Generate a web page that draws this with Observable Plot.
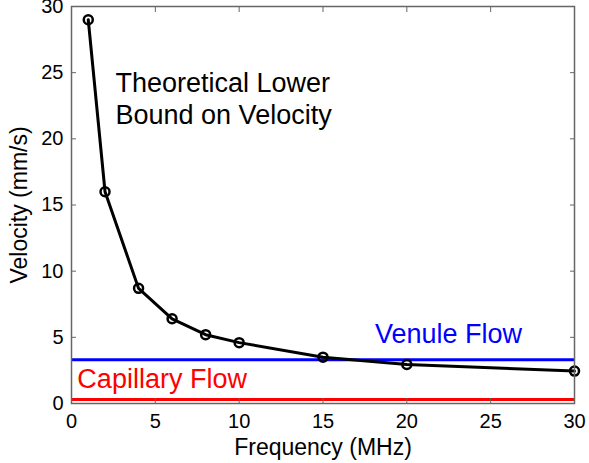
<!DOCTYPE html>
<html><head><meta charset="utf-8">
<script src="https://cdn.jsdelivr.net/npm/d3@7"></script>
<script src="https://cdn.jsdelivr.net/npm/@observablehq/plot@0.6"></script>
<style>body{margin:0;background:#fff}</style>
</head><body><div id="chart"></div>
<script>
const frequency = [1, 2, 4, 6, 8, 10, 15, 20, 30];
const velocity = [29, 16, 8.7, 6.4, 5.2, 4.6, 3.5, 2.95, 2.45];
const venuleFlow = 3.3;
const capillaryFlow = 0.3;
const xTicks = [0, 5, 10, 15, 20, 25, 30];
const yTicks = [0, 5, 10, 15, 20, 25, 30];
const data = frequency.map((f, i) => ({f, v: velocity[i]}));
const font = "Liberation Sans, Arial, sans-serif";
const blank = () => "";
const chart = Plot.plot({
  width: 589, height: 463,
  marginLeft: 71, marginRight: 15, marginTop: 6, marginBottom: 60,
  style: {fontFamily: font, fontSize: "20px", color: "#000", background: "#fff", overflow: "visible"},
  x: {domain: [0, 30]},
  y: {domain: [0, 30]},
  marks: [
    Plot.ruleY([venuleFlow], {stroke: "#0000ff", strokeWidth: 3}),
    Plot.ruleY([capillaryFlow], {stroke: "#ff0000", strokeWidth: 3}),
    Plot.line(data, {x: "f", y: "v", stroke: "#000", strokeWidth: 3}),
    Plot.dot(data, {x: "f", y: "v", r: 4.5, stroke: "#000", strokeWidth: 2.5, fill: "none"}),
    Plot.frame({stroke: "#666", strokeWidth: 1.5}),
    Plot.axisX(xTicks, {anchor: "bottom", tickSize: -5, stroke: "#666", tickFormat: blank, label: null}),
    Plot.axisX(xTicks, {anchor: "top", tickSize: -5, stroke: "#666", tickFormat: blank, label: null}),
    Plot.axisY(yTicks, {anchor: "left", tickSize: -5, stroke: "#666", tickFormat: blank, label: null}),
    Plot.axisY(yTicks, {anchor: "right", tickSize: -5, stroke: "#666", tickFormat: blank, label: null}),
    Plot.axisX(xTicks, {anchor: "bottom", tickSize: 0, tickPadding: 10, fontSize: 20, fill: "#000", label: null}),
    Plot.axisY(yTicks, {anchor: "left", tickSize: 0, tickPadding: 8, fontSize: 20, fill: "#000", label: null}),
    Plot.axisX([], {anchor: "bottom", tickSize: 0, fontSize: 23, fill: "#000", label: "Frequency (MHz)", labelAnchor: "center", labelArrow: "none", labelOffset: 51}),
    Plot.axisY([], {anchor: "left", tickSize: 0, fontSize: 23, fill: "#000", label: "Velocity (mm/s)", labelAnchor: "center", labelArrow: "none", labelOffset: 61}),
    Plot.text(["Theoretical Lower\nBound on Velocity"], {frameAnchor: "top-left", dx: 44, dy: 63, text: d => d, fontSize: 27, lineHeight: 1.18, textAnchor: "start", fill: "#000"}),
    Plot.text(["Venule Flow"], {x: 18.1, y: venuleFlow, dy: -25, text: d => d, fontSize: 27, textAnchor: "start", fill: "#0000ff"}),
    Plot.text(["Capillary Flow"], {x: 0.35, y: capillaryFlow, dy: -20, text: d => d, fontSize: 27, textAnchor: "start", fill: "#ff0000"})
  ]
});
document.getElementById("chart").appendChild(chart);
</script></body></html>
